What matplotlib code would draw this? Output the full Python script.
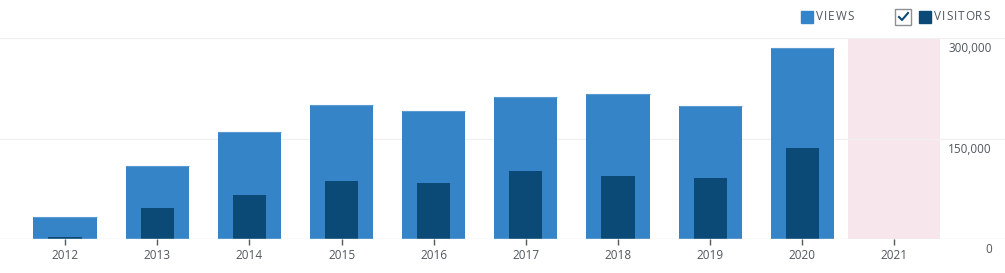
import numpy as np
import matplotlib.pyplot as plt
from matplotlib.patches import Rectangle
from matplotlib.lines import Line2D
import matplotlib.transforms as mtransforms

plt.rcParams['font.family'] = ['Open Sans', 'DejaVu Sans']

years = ['2012', '2013', '2014', '2015', '2016', '2017', '2018', '2019', '2020', '2021']
views = [32800, 109000, 159500, 200000, 191000, 212000, 216500, 198500, 285000, 0]
visitors = [3000, 46000, 65500, 86500, 83500, 101500, 94000, 91000, 135500, 0]
y_ticks = [0, 150000, 300000]
y_labels = ['0', '150,000', '300,000']
highlight = '2021'

views_color = '#3584c7'
visitors_color = '#0b4a76'
text_color = '#50575e'
grid_color = '#f0f0f1'

fig = plt.figure(figsize=(10.05, 2.73), dpi=100)
ax = fig.add_axes([0, 34 / 273, 1, 201 / 273])

x = np.arange(len(years))
hi = years.index(highlight)
ax.axvspan(hi - 0.5, hi + 0.5, color='#f7e6eb', zorder=0, lw=0)

for v in y_ticks[1:]:
    ax.axhline(v, color=grid_color, lw=1, zorder=0.5)
ax.axhline(0, color='#e6e6e6', lw=1, zorder=3)

ax.bar(x, views, width=0.685, color=views_color, zorder=1)
ax.bar(x, visitors, width=0.36, color=visitors_color, zorder=2)
# faint lighter line on top of the views bars
has = [i for i, v in enumerate(views) if v > 0]
ax.hlines([views[i] for i in has], x[has] - 0.3425, x[has] + 0.3425,
          color='#5c9ad2', lw=0.8, zorder=2)

ax.set_xlim(-0.706, 10.2)
ax.set_ylim(0, 300000)
ax.set_xticks(x)
ax.set_xticklabels(years)
ax.tick_params(axis='x', length=4, width=1, color='#50575e', labelsize=8.5,
               labelcolor=text_color, pad=3)
ax.set_yticks([])
for s in ax.spines.values():
    s.set_visible(False)

trans = mtransforms.blended_transform_factory(fig.transFigure, ax.transData)
trans = trans + mtransforms.ScaledTranslation(0, -3 / 72, fig.dpi_scale_trans)
for v, lab in zip(y_ticks, y_labels):
    ax.text(992 / 1005, v, lab, transform=trans, ha='right', va='top',
            fontsize=8.5, color=text_color)


# legend
def px(xp, yp):
    return xp / 1005, 1 - yp / 273


renderer = fig.canvas.get_renderer()


def spaced(x0, y0, s, gap):
    # letter-spaced text, one glyph at a time
    xp = x0
    for ch in s:
        t = fig.text(*px(xp, y0), ch, fontsize=8.5, color=text_color,
                     va='center', ha='left')
        xp += t.get_window_extent(renderer).width + gap


fig.patches.append(Rectangle(px(801, 23), 12 / 1005, 12 / 273, transform=fig.transFigure,
                             color=views_color, figure=fig))
spaced(816, 17, 'VIEWS', 0.9)
fig.patches.append(Rectangle(px(895, 25), 16 / 1005, 16 / 273, transform=fig.transFigure,
                             facecolor='white', edgecolor='#8c8f94', lw=1, figure=fig))
fig.lines.append(Line2D([899 / 1005, 902 / 1005, 908 / 1005],
                        [1 - 17 / 273, 1 - 20 / 273, 1 - 13 / 273],
                        transform=fig.transFigure, color=visitors_color, lw=1.5,
                        figure=fig))
fig.patches.append(Rectangle(px(919, 23), 12 / 1005, 12 / 273, transform=fig.transFigure,
                             color=visitors_color, figure=fig))
spaced(934, 17, 'VISITORS', 0.9)

fig.savefig('out.png', dpi=100)
